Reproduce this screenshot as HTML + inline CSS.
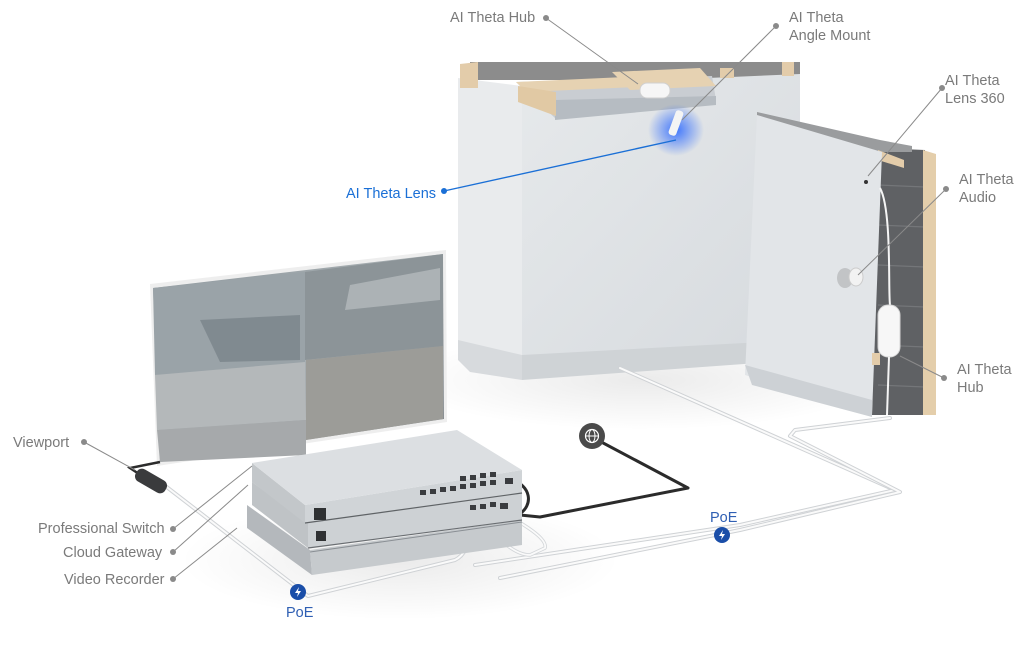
<!DOCTYPE html>
<html><head><meta charset="utf-8"><style>
html,body{margin:0;padding:0;background:#fff;}
svg{display:block;}
text{font-family:"Liberation Sans",sans-serif;font-size:14.5px;fill:#7a7a7a;}
</style></head><body>
<svg width="1024" height="665" viewBox="0 0 1024 665" xmlns="http://www.w3.org/2000/svg">
<defs>
<radialGradient id="glow" cx="0.5" cy="0.5" r="0.5"><stop offset="0" stop-color="#2f6bff" stop-opacity="0.9"/><stop offset="1" stop-color="#2f6bff" stop-opacity="0"/></radialGradient>
<linearGradient id="wallf" x1="0" y1="0" x2="1" y2="1"><stop offset="0" stop-color="#e6e9eb"/><stop offset="1" stop-color="#d6dade"/></linearGradient>
<linearGradient id="scr" x1="0" y1="0" x2="1" y2="1"><stop offset="0" stop-color="#8d979d"/><stop offset="0.5" stop-color="#a9b0b3"/><stop offset="1" stop-color="#7f8488"/></linearGradient>
<radialGradient id="shadow" cx="0.5" cy="0.5" r="0.5"><stop offset="0" stop-color="#000" stop-opacity="0.08"/><stop offset="1" stop-color="#000" stop-opacity="0"/></radialGradient>
</defs>

<ellipse cx="400" cy="560" rx="220" ry="60" fill="url(#shadow)"/>
<ellipse cx="640" cy="380" rx="240" ry="50" fill="url(#shadow)"/>

<!-- Wall 1 -->
<polygon points="470,62 800,62 800,80 470,80" fill="#8c8c8c"/>
<polygon points="458,78 522,86 522,370 458,350" fill="#e9ebed"/>
<polygon points="522,86 800,74 800,350 522,370" fill="url(#wallf)"/>
<polygon points="458,340 522,355 522,380 470,372 458,360" fill="#d7dadd"/>
<polygon points="522,355 800,340 800,360 522,380" fill="#cfd3d6"/>
<polygon points="516,82 712,76 716,100 555,118" fill="#c9cdd2"/>
<polygon points="555,100 716,96 716,105 555,120" fill="#b6bcc2"/>
<polygon points="460,64 478,62 478,88 460,88" fill="#e3ccaa"/>
<polygon points="516,82 690,74 700,84 526,92" fill="#e6d2b2"/>
<polygon points="518,86 556,92 556,116 518,102" fill="#e1c9a4"/>
<polygon points="612,72 700,68 716,86 630,90" fill="#e6d2b2"/>
<rect x="720" y="68" width="14" height="10" fill="#e3ccaa"/>
<rect x="782" y="62" width="12" height="14" fill="#e3ccaa"/>
<rect x="640" y="83" width="30" height="15" rx="7" fill="#f6f6f6" stroke="#d0d0d0"/>
<ellipse cx="676" cy="130" rx="28" ry="26" fill="url(#glow)"/>
<rect x="672" y="110" width="8" height="26" rx="3" fill="#f4f4f4" transform="rotate(20 676 123)"/>

<!-- Wall 2 -->
<polygon points="878,148 925,150 925,415 872,415" fill="#5f6164"/>
<g stroke="#747679" stroke-width="1.2">
<line x1="878" y1="185" x2="925" y2="187"/><line x1="878" y1="225" x2="925" y2="227"/><line x1="878" y1="265" x2="925" y2="267"/><line x1="878" y1="305" x2="925" y2="307"/><line x1="878" y1="345" x2="925" y2="347"/><line x1="878" y1="385" x2="925" y2="387"/>
</g>
<polygon points="923,150 936,154 936,415 923,415" fill="#e4ceab"/>
<polygon points="757,112 880,140 912,146 912,152 880,152 757,117" fill="#9a9c9e"/>
<polygon points="878,150 904,160 904,168 878,160" fill="#e3ccaa"/>
<polygon points="757,115 882,152 872,415 745,375" fill="#e2e5e8"/>
<polygon points="745,365 872,400 872,417 752,385" fill="#cdd1d5"/>
<circle cx="866" cy="182" r="2" fill="#333"/>
<ellipse cx="845" cy="278" rx="8" ry="10" fill="#c2c4c6"/>
<ellipse cx="856" cy="277" rx="7" ry="9" fill="#f2f2f2" stroke="#ccc"/>
<path d="M880 188 C892 210 888 290 890 305" stroke="#f5f5f5" stroke-width="2" fill="none"/>
<rect x="878" y="305" width="22" height="52" rx="10" fill="#f7f7f7" stroke="#d4d4d4"/>
<line x1="889" y1="357" x2="887" y2="415" stroke="#f5f5f5" stroke-width="2"/>
<rect x="872" y="353" width="8" height="12" fill="#e3ccaa"/>

<!-- Cables -->
<g fill="none" stroke-linecap="round" stroke-linejoin="round">
<path d="M620 368 L895 490 L740 525 L475 565" stroke="#cfd2d5" stroke-width="4"/>
<path d="M620 368 L895 490 L740 525 L475 565" stroke="#fafafa" stroke-width="2"/>
<path d="M890 418 L795 430 L790 436 L900 492 L740 530 L500 578" stroke="#cfd2d5" stroke-width="4"/>
<path d="M890 418 L795 430 L790 436 L900 492 L740 530 L500 578" stroke="#fafafa" stroke-width="2"/>
<path d="M590 436 L688 488 L540 517 L520 515" stroke="#2b2b2b" stroke-width="3"/>
<path d="M512 480 C530 485 535 505 518 515" stroke="#2b2b2b" stroke-width="3"/>
<path d="M442 498 C470 520 475 550 455 560 L308 596 L155 478" stroke="#cfd2d5" stroke-width="4"/>
<path d="M442 498 C470 520 475 550 455 560 L308 596 L155 478" stroke="#fafafa" stroke-width="2"/>
<path d="M462 498 C490 530 510 555 530 555 L545 548 C548 538 520 520 475 500" stroke="#d3d6d9" stroke-width="3.5"/>
<path d="M462 498 C490 530 510 555 530 555 L545 548 C548 538 520 520 475 500" stroke="#fafafa" stroke-width="1.8"/>
</g>

<!-- Monitor -->
<polygon points="150,284 446,250 447,422 157,466" fill="#eeeeee"/>
<polygon points="153,288 443,254 444,419 160,462" fill="url(#scr)"/>
<polygon points="153,288 305,272 305,370 155,375" fill="#9aa3a8"/>
<polygon points="305,272 443,254 443,346 305,360" fill="#8c9498"/>
<polygon points="155,375 305,362 306,420 157,430" fill="#b4b8ba"/>
<polygon points="157,430 306,420 306,455 160,462" fill="#a6a9ab"/>
<polygon points="306,360 443,346 443,419 306,440" fill="#9c9c98"/>
<polygon points="200,320 300,315 300,360 220,362" fill="#6f7a80" opacity="0.6"/>
<polygon points="350,285 440,268 440,300 345,310" fill="#b9bfc2" opacity="0.7"/>
<path d="M160 462 L130 468 L145 478" stroke="#2b2b2b" stroke-width="2.5" fill="none"/>
<rect x="134" y="474" width="34" height="14" rx="6" fill="#3a3b3d" transform="rotate(30 151 481)"/>

<!-- Network stack -->
<polygon points="247,505 310,550 312,575 247,528" fill="#b4b8bc"/>
<polygon points="310,550 522,520 522,545 312,575" fill="#c6cacd"/>
<line x1="310" y1="552" x2="522" y2="522" stroke="#8a8f94"/>
<polygon points="252,482 308,523 308,548 252,505" fill="#bfc3c6"/>
<polygon points="308,523 522,493 522,520 308,548" fill="#cdd1d4"/>
<polygon points="252,463 305,505 305,523 252,482" fill="#c3c7ca"/>
<polygon points="305,505 522,470 522,493 305,523" fill="#d0d4d7"/>
<polygon points="252,463 457,430 522,470 305,505" fill="#dcdfe2"/>
<line x1="305" y1="523" x2="522" y2="493" stroke="#5f6366" stroke-width="1.2"/>
<line x1="308" y1="548" x2="522" y2="520" stroke="#6a6e72" stroke-width="1.2"/>
<rect x="314" y="508" width="12" height="12" fill="#2f3133"/>
<rect x="316" y="531" width="10" height="10" fill="#2f3133"/>
<g fill="#3a3c3f">
<rect x="420" y="490" width="6" height="5"/><rect x="430" y="489" width="6" height="5"/><rect x="440" y="487" width="6" height="5"/><rect x="450" y="486" width="6" height="5"/><rect x="460" y="484" width="6" height="5"/><rect x="470" y="483" width="6" height="5"/><rect x="480" y="481" width="6" height="5"/><rect x="490" y="480" width="6" height="5"/>
<rect x="460" y="476" width="6" height="5"/><rect x="470" y="475" width="6" height="5"/><rect x="480" y="473" width="6" height="5"/><rect x="490" y="472" width="6" height="5"/>
<rect x="470" y="505" width="6" height="5"/><rect x="480" y="504" width="6" height="5"/><rect x="490" y="502" width="6" height="5"/>
<rect x="505" y="478" width="8" height="6"/><rect x="500" y="503" width="8" height="6"/>
</g>

<!-- Globe -->
<circle cx="592" cy="436" r="13" fill="#4a4a4a"/>
<circle cx="592" cy="436" r="6.5" fill="none" stroke="#fff" stroke-width="1.2"/>
<ellipse cx="592" cy="436" rx="3" ry="6.5" fill="none" stroke="#fff" stroke-width="1"/>
<line x1="585.5" y1="436" x2="598.5" y2="436" stroke="#fff" stroke-width="1"/>

<!-- PoE badges -->
<circle cx="298" cy="592" r="8" fill="#1a4ea8"/>
<path d="M299 587 L295 593 L298 593 L297 597 L301 591 L298 591 Z" fill="#fff"/>
<text x="286" y="617" style="fill:#2f5fb3">PoE</text>
<circle cx="722" cy="535" r="8" fill="#1a4ea8"/>
<path d="M723 530 L719 536 L722 536 L721 540 L725 534 L722 534 Z" fill="#fff"/>
<text x="710" y="522" style="fill:#2f5fb3">PoE</text>

<g stroke="#8a8a8a" stroke-width="1" fill="none">
<line x1="546" y1="18" x2="638" y2="84"/>
<line x1="776" y1="26" x2="682" y2="120"/>
<line x1="942" y1="88" x2="868" y2="176"/>
<line x1="946" y1="189" x2="858" y2="275"/>
<line x1="944" y1="378" x2="900" y2="356"/>
<line x1="84" y1="442" x2="135" y2="470"/>
<line x1="173" y1="529" x2="252" y2="466"/>
<line x1="173" y1="552" x2="248" y2="485"/>
<line x1="173" y1="579" x2="237" y2="528"/>
</g>
<line x1="444" y1="191" x2="676" y2="140" stroke="#1a6fd6" stroke-width="1.4"/>
<g fill="#8a8a8a">
<circle cx="546" cy="18" r="3"/><circle cx="776" cy="26" r="3"/><circle cx="942" cy="88" r="3"/><circle cx="946" cy="189" r="3"/><circle cx="944" cy="378" r="3"/>
<circle cx="84" cy="442" r="3"/><circle cx="173" cy="529" r="3"/><circle cx="173" cy="552" r="3"/><circle cx="173" cy="579" r="3"/>
</g>
<circle cx="444" cy="191" r="3" fill="#1a6fd6"/>

<text x="450" y="22">AI Theta Hub</text>
<text x="789" y="22">AI Theta</text>
<text x="789" y="40">Angle Mount</text>
<text x="945" y="85">AI Theta</text>
<text x="945" y="103">Lens 360</text>
<text x="959" y="184">AI Theta</text>
<text x="959" y="202">Audio</text>
<text x="957" y="374">AI Theta</text>
<text x="957" y="392">Hub</text>
<text x="346" y="198" style="fill:#1a6fd6">AI Theta Lens</text>
<text x="13" y="447">Viewport</text>
<text x="38" y="533">Professional Switch</text>
<text x="63" y="557">Cloud Gateway</text>
<text x="64" y="584">Video Recorder</text>
</svg>
</body></html>
